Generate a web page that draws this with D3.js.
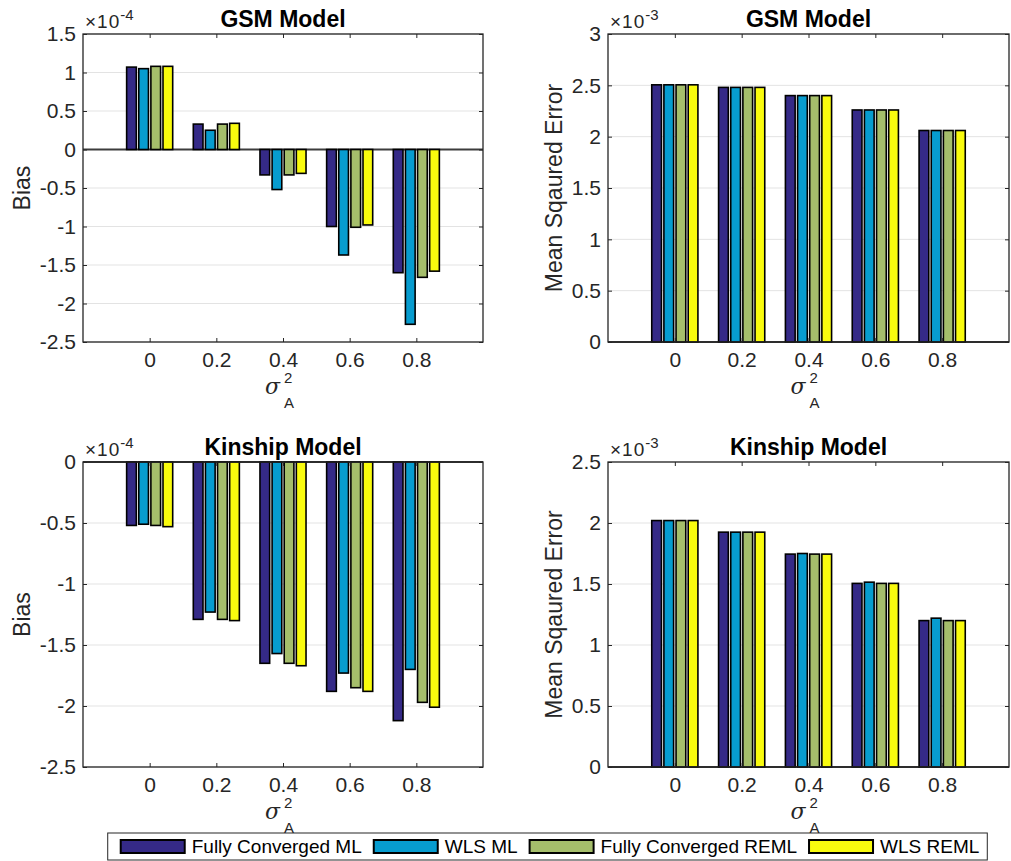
<!DOCTYPE html>
<html>
<head>
<meta charset="utf-8">
<script src="https://cdn.jsdelivr.net/npm/d3@7"></script>
<style>
  html, body { margin: 0; padding: 0; background: #fff; }
  svg { display: block; }
  text { font-family: "Liberation Sans", Arial, Helvetica, sans-serif; }
</style>
</head>
<body>
<svg id="fig" width="1011" height="861"></svg>
<script>
// Additive genetic variance levels (x categories)
const sigmaA = [0, 0.2, 0.4, 0.6, 0.8];

// Estimation methods (one bar per method in each group)
const methods = ["Fully Converged ML", "WLS ML", "Fully Converged REML", "WLS REML"];
const methodColors = ["#352A87", "#079CCF", "#A5BE6B", "#F9FB0E"];

// GSM model, bias (units of 1e-4)
const gsmBiasFCML   = [1.07, 0.33, -0.33, -1.00, -1.60];
const gsmBiasWLSML  = [1.05, 0.25, -0.52, -1.37, -2.27];
const gsmBiasFCREML = [1.08, 0.33, -0.33, -1.01, -1.66];
const gsmBiasWLSREML= [1.08, 0.34, -0.31, -0.98, -1.58];

// GSM model, mean squared error (units of 1e-3)
const gsmMseFCML    = [2.505, 2.48, 2.40, 2.26, 2.06];
const gsmMseWLSML   = [2.505, 2.48, 2.40, 2.26, 2.06];
const gsmMseFCREML  = [2.505, 2.48, 2.40, 2.26, 2.06];
const gsmMseWLSREML = [2.505, 2.48, 2.40, 2.26, 2.06];

// Kinship model, bias (units of 1e-4)
const kinBiasFCML   = [-0.52, -1.29, -1.65, -1.88, -2.12];
const kinBiasWLSML  = [-0.51, -1.23, -1.57, -1.73, -1.70];
const kinBiasFCREML = [-0.52, -1.29, -1.65, -1.85, -1.97];
const kinBiasWLSREML= [-0.53, -1.30, -1.67, -1.88, -2.01];

// Kinship model, mean squared error (units of 1e-3)
const kinMseFCML    = [2.02, 1.925, 1.745, 1.505, 1.20];
const kinMseWLSML   = [2.02, 1.925, 1.75, 1.515, 1.22];
const kinMseFCREML  = [2.02, 1.925, 1.745, 1.505, 1.20];
const kinMseWLSREML = [2.02, 1.925, 1.745, 1.505, 1.20];

// Y tick values per panel
const biasTicksGsm = [-2.5, -2, -1.5, -1, -0.5, 0, 0.5, 1, 1.5];
const mseTicksGsm  = [0, 0.5, 1, 1.5, 2, 2.5, 3];
const biasTicksKin = [-2.5, -2, -1.5, -1, -0.5, 0];
const mseTicksKin  = [0, 0.5, 1, 1.5, 2, 2.5];

const panels = [
  { title: "GSM Model", ylabel: "Bias", exp: "-4", ydom: [-2.5, 1.5], ticks: biasTicksGsm,
    series: [gsmBiasFCML, gsmBiasWLSML, gsmBiasFCREML, gsmBiasWLSREML],
    box: { x: 83, y: 34, w: 400, h: 308 }, ylabelX: 30 },
  { title: "GSM Model", ylabel: "Mean Sqaured Error", exp: "-3", ydom: [0, 3], ticks: mseTicksGsm,
    series: [gsmMseFCML, gsmMseWLSML, gsmMseFCREML, gsmMseWLSREML],
    box: { x: 608, y: 34, w: 401, h: 308 }, ylabelX: 562 },
  { title: "Kinship Model", ylabel: "Bias", exp: "-4", ydom: [-2.5, 0], ticks: biasTicksKin,
    series: [kinBiasFCML, kinBiasWLSML, kinBiasFCREML, kinBiasWLSREML],
    box: { x: 83, y: 462, w: 400, h: 305 }, ylabelX: 30 },
  { title: "Kinship Model", ylabel: "Mean Sqaured Error", exp: "-3", ydom: [0, 2.5], ticks: mseTicksKin,
    series: [kinMseFCML, kinMseWLSML, kinMseFCREML, kinMseWLSREML],
    box: { x: 608, y: 462, w: 401, h: 305 }, ylabelX: 562 }
];

const svg = d3.select("#fig");
const axisColor = "#262626";
const tickFont = 21;
const fmt = v => String(v);

panels.forEach(p => {
  const b = p.box;
  const g = svg.append("g").attr("transform", `translate(${b.x},${b.y})`);

  const x = d3.scaleLinear().domain([-0.2, 1.0]).range([0, b.w]);
  const y = d3.scaleLinear().domain(p.ydom).range([b.h, 0]);

  // Grouped bar slots: group width is 4/5.5 of category spacing
  const groupWidth = x(0.2 * 4 / 5.5) - x(0);
  const inner = d3.scaleBand().domain(d3.range(methods.length))
    .range([-groupWidth / 2, groupWidth / 2]).paddingInner(0.2).paddingOuter(0.1);

  // Grid lines
  g.append("g").selectAll("line").data(p.ticks).join("line")
    .attr("x1", 0).attr("x2", b.w)
    .attr("y1", d => y(d)).attr("y2", d => y(d))
    .attr("stroke", "#e3e3e3").attr("stroke-width", 1);

  // Bar baseline at zero
  g.append("line").attr("x1", 0).attr("x2", b.w)
    .attr("y1", y(0)).attr("y2", y(0))
    .attr("stroke", "#3c3c3c").attr("stroke-width", 1.8);

  // Bars
  p.series.forEach((vals, si) => {
    g.append("g").selectAll("rect").data(vals).join("rect")
      .attr("x", (d, i) => x(sigmaA[i]) + inner(si))
      .attr("width", inner.bandwidth())
      .attr("y", d => Math.min(y(d), y(0)))
      .attr("height", d => Math.abs(y(d) - y(0)))
      .attr("fill", methodColors[si])
      .attr("stroke", "#000").attr("stroke-width", 1.6);
  });

  // Axes (ticks point inward)
  const left = d3.axisLeft(y).tickValues(p.ticks).tickFormat(fmt).tickSizeInner(-4).tickSizeOuter(0).tickPadding(7);
  const bottom = d3.axisBottom(x).tickValues(sigmaA).tickFormat(fmt).tickSizeInner(-4).tickSizeOuter(0).tickPadding(10);
  const right = d3.axisRight(y).tickValues(p.ticks).tickFormat("").tickSizeInner(-4).tickSizeOuter(0);
  const top = d3.axisTop(x).tickValues(sigmaA).tickFormat("").tickSizeInner(-4).tickSizeOuter(0);

  const styleAxis = sel => {
    sel.select(".domain").remove();
    sel.selectAll("line").attr("stroke", axisColor).attr("stroke-width", 1);
    sel.selectAll("text").attr("fill", axisColor).style("font-size", tickFont + "px")
      .style("font-family", "'Liberation Sans', Arial, sans-serif");
  };
  g.append("g").call(left).call(styleAxis);
  g.append("g").attr("transform", `translate(0,${b.h})`).call(bottom).call(styleAxis);
  g.append("g").attr("transform", `translate(${b.w},0)`).call(right).call(styleAxis);
  g.append("g").call(top).call(styleAxis);

  // Axes box
  g.append("rect").attr("x", 0).attr("y", 0).attr("width", b.w).attr("height", b.h)
    .attr("fill", "none").attr("stroke", axisColor).attr("stroke-width", 1.3);

  // Title
  g.append("text").attr("x", b.w / 2).attr("y", -7).attr("text-anchor", "middle")
    .style("font-size", "23px").style("font-weight", "bold").attr("fill", "#000")
    .text(p.title);

  // Exponent label (x10^n)
  const ex = g.append("text").attr("x", 2).attr("y", -6).attr("fill", axisColor);
  ex.append("tspan").style("font-size", "19px").style("letter-spacing", "1px").text("\u00D710");
  ex.append("tspan").style("font-size", "15px").attr("dy", -8).text(p.exp);

  // Y label
  svg.append("text")
    .attr("transform", `translate(${p.ylabelX},${b.y + b.h / 2}) rotate(-90)`)
    .attr("text-anchor", "middle").attr("fill", axisColor)
    .style("font-size", "23px").text(p.ylabel);

  // X label: sigma squared, subscript A
  const cx = b.w / 2;
  g.append("text").attr("x", cx - 3).attr("y", b.h + 52).attr("text-anchor", "end")
    .attr("fill", axisColor).style("font-size", "22px").style("font-style", "italic")
    .style("font-family", "'DejaVu Serif', serif").text("\u03C3");
  g.append("text").attr("x", cx + 1).attr("y", b.h + 41).attr("fill", axisColor)
    .style("font-size", "15px").text("2");
  g.append("text").attr("x", cx + 1).attr("y", b.h + 66).attr("fill", axisColor)
    .style("font-size", "15px").text("A");
});

// Legend
const legend = svg.append("g");
const patchW = 64, patchH = 13, gapText = 7, gapItem = 12;
const items = legend.selectAll("g").data(methods).join("g");
items.append("rect").attr("width", patchW).attr("height", patchH)
  .attr("fill", (d, i) => methodColors[i]).attr("stroke", "#000").attr("stroke-width", 2);
items.append("text").attr("x", patchW + gapText).attr("y", patchH)
  .attr("fill", "#000").style("font-size", "19px").text(d => d);
let cursor = 0;
items.each(function () {
  const it = d3.select(this);
  it.attr("transform", `translate(${cursor},0)`);
  cursor += patchW + gapText + it.select("text").node().getComputedTextLength() + gapItem;
});
const legendW = cursor - gapItem + 13 + 8;
const legendX = 547.5 - legendW / 2;
legend.insert("rect", ":first-child")
  .attr("x", -13).attr("y", -7).attr("width", legendW).attr("height", 27)
  .attr("fill", "#fff").attr("stroke", axisColor).attr("stroke-width", 1);
legend.attr("transform", `translate(${legendX + 13},840)`);
</script>
</body>
</html>
